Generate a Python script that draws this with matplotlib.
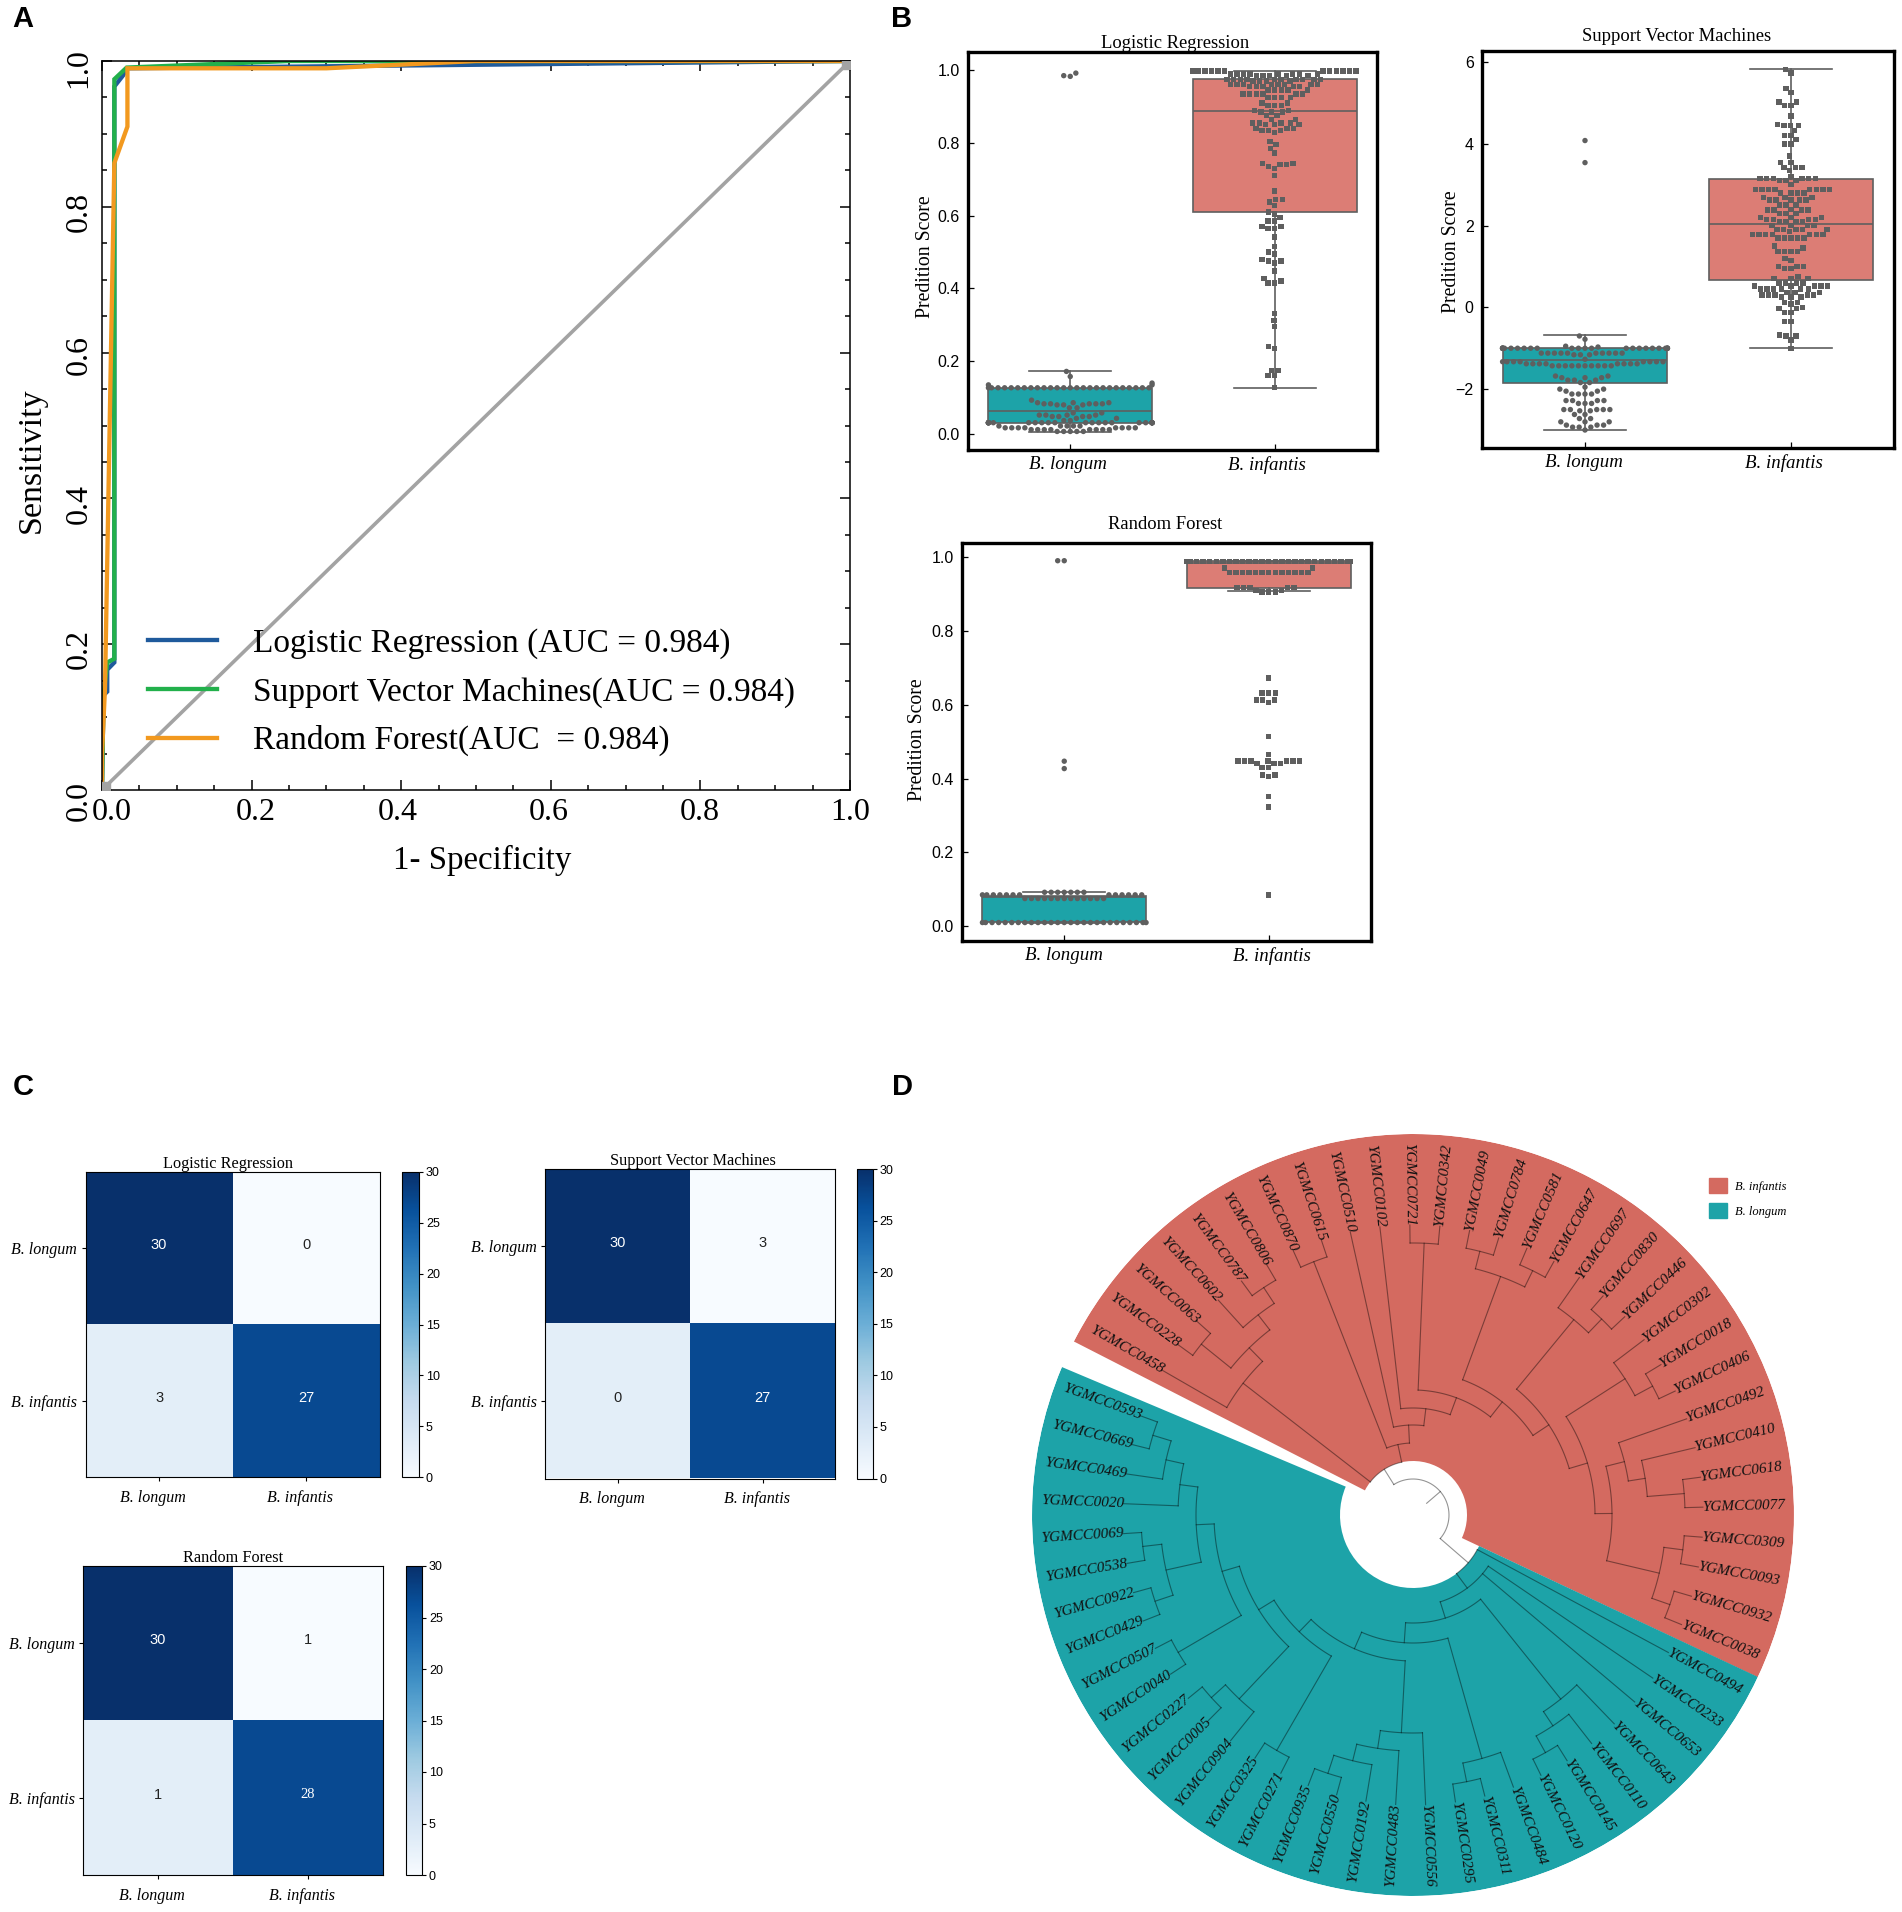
# ============================================================= #
#
# Panel figure: ROC curves, score boxplots, confusion matrices, tree
#
# ============================================================= #
#
# Libraries
import matplotlib as mpl
mpl.use('Agg')
#
import matplotlib.pyplot as plt
from matplotlib.patches import Patch
from matplotlib.ticker import MultipleLocator
from matplotlib.transforms import ScaledTranslation
import numpy as np
import seaborn as sns

plt.rcParams['font.family'] = ['Liberation Serif', 'DejaVu Serif']

#
# ============================================================= #
#
# Data
models = ['Logistic Regression', 'Support Vector Machines', 'Random Forest']
species = ['B. longum', 'B. infantis']

# Panel A
roc_lr_x = [0, 0.002, 0.007, 0.007, 0.0165, 0.0165, 0.028, 0.034, 1]
roc_lr_y = [0, 0.13, 0.135, 0.165, 0.175, 0.965, 0.98, 0.99, 1]
roc_svm_x = [0, 0.002, 0.007, 0.0165, 0.0165, 0.033, 0.25, 1]
roc_svm_y = [0, 0.13, 0.175, 0.18, 0.975, 0.991, 1, 1]
roc_rf_x = [0, 0, 0.004, 0.0165, 0.034, 0.034, 0.3, 0.5, 1]
roc_rf_y = [0, 0.05, 0.14, 0.86, 0.91, 0.99, 0.99, 1, 1]
roc_labels = ['Logistic Regression (AUC = 0.984)',
              'Support Vector Machines(AUC = 0.984)',
              'Random Forest(AUC  = 0.984)']

# Panel B: swarm values with how many points sit at each value
lr_long_val = [0.992, 0.985, 0.983, 0.172, 0.158, 0.14, 0.135, 0.127, 0.093, 0.086, 0.083, 0.08, 0.072,
               0.058, 0.052, 0.048, 0.043, 0.037, 0.031, 0.022, 0.017, 0.012, 0.007]
lr_long_cnt = [1, 1, 1, 1, 1, 1, 2, 26, 1, 3, 5, 3, 2, 2, 4, 4, 2, 2, 26, 5, 8, 8, 5]
lr_inf_val = [0.998, 0.99, 0.985, 0.975, 0.97, 0.96, 0.955, 0.945, 0.935, 0.925, 0.91, 0.903, 0.89, 0.885,
              0.875, 0.865, 0.855, 0.85, 0.84, 0.835, 0.828, 0.804, 0.795, 0.785, 0.772, 0.743, 0.74, 0.735,
              0.73, 0.71, 0.668, 0.645, 0.638, 0.628, 0.61, 0.605, 0.595, 0.585, 0.57, 0.565, 0.542, 0.515,
              0.5, 0.495, 0.48, 0.475, 0.47, 0.448, 0.428, 0.42, 0.415, 0.332, 0.312, 0.295, 0.24, 0.235,
              0.175, 0.16, 0.127]
lr_inf_cnt = [20, 8, 5, 10, 4, 8, 5, 5, 6, 4, 2, 3, 2, 3, 2, 2, 4, 3, 3, 3, 1, 1, 1, 1, 1, 2, 2, 1,
              1, 1, 1, 2, 1, 1, 1, 1, 1, 2, 2, 2, 1, 1, 1, 1, 1, 2, 1, 1, 1, 1, 2, 1, 1, 1, 1, 1, 2, 2, 1]
svm_long_val = [4.08, 3.54, -0.7, -0.78, -0.95, -0.97, -1.0, -1.12, -1.16, -1.27, -1.33, -1.38, -1.43,
                -1.68, -1.72, -1.78, -1.84, -1.95, -2.0, -2.05, -2.12, -2.28, -2.35, -2.5, -2.53, -2.62,
                -2.72, -2.8, -2.88, -2.93, -3.0]
svm_long_cnt = [1, 1, 1, 1, 1, 1, 26, 10, 3, 1, 8, 8, 10, 2, 3, 3, 2, 1, 2, 2, 4, 4, 3, 5, 2, 2, 2, 3, 3, 3, 1]
svm_inf_val = [5.82, 5.73, 5.35, 5.25, 5.02, 4.93, 4.68, 4.47, 4.45, 4.33, 4.2, 4.1, 4.0, 3.7, 3.55, 3.42,
               3.35, 3.2, 3.15, 3.1, 3.0, 2.88, 2.8, 2.68, 2.63, 2.5, 2.4, 2.38, 2.3, 2.2, 2.15, 2.1, 2.0,
               1.9, 1.85, 1.78, 1.7, 1.5, 1.45, 1.37, 1.2, 1.15, 1.0, 0.95, 0.75, 0.7, 0.6, 0.52, 0.45, 0.37,
               0.3, 0.25, 0.12, 0.08, 0.0, -0.03, -0.12, -0.35, -0.68, -0.7, -0.8, -1.0]
svm_inf_cnt = [1, 1, 1, 1, 2, 2, 1, 1, 3, 1, 2, 1, 2, 1, 2, 3, 1, 1, 6, 3, 1, 8, 4, 3, 5, 3, 1, 4, 3, 3, 4, 4, 4,
               5, 1, 7, 5, 1, 1, 4, 1, 1, 3, 2, 1, 3, 4, 5, 6, 3, 5, 3, 2, 1, 1, 2, 2, 2, 1, 2, 1, 1]
rf_long_val = [0.99, 0.447, 0.427, 0.092, 0.085, 0.075, 0.01]
rf_long_cnt = [2, 1, 1, 7, 13, 13, 27]
rf_inf_val = [0.988, 0.97, 0.958, 0.917, 0.91, 0.905, 0.672, 0.632, 0.613, 0.606, 0.514, 0.465, 0.447, 0.44,
              0.43, 0.41, 0.405, 0.352, 0.323, 0.085]
rf_inf_cnt = [27, 2, 13, 5, 2, 3, 1, 3, 3, 1, 1, 1, 7, 3, 2, 2, 1, 1, 1, 1]

# Boxes, [B. longum, B. infantis]
lr_med, lr_q1, lr_q3, lr_lo, lr_hi = [0.064, 0.889], [0.031, 0.611], [0.1275, 0.976], [0.0055, 0.1275], [0.174, 0.998]
svm_med, svm_q1, svm_q3, svm_lo, svm_hi = [-1.295, 2.05], [-1.85, 0.66], [-0.99, 3.13], [-2.99, -0.99], [-0.68, 5.83]
rf_med, rf_q1, rf_q3, rf_lo, rf_hi = [0.08, 0.985], [0.012, 0.916], [0.082, 0.988], [0.01, 0.907], [0.093, 0.99]

# Panel C: the printed counts, and the shades, which are the same in all three
cm_lr = [[30, 0], [3, 27]]
cm_svm = [[30, 3], [0, 27]]
cm_rf = [[30, 1], [1, 28]]
cm_shade = [[30, 0], [3, 27]]
cbar_ticks = [0, 5, 10, 15, 20, 25, 30]

# Panel D: a node is (radius, children), a leaf is the strain number
# Built from the tips down so the brackets stay readable
r_a = (253, ['0602', (272, ['0787', '0806'])])
r_b = (234, [(272, ['0228', '0063']), r_a])
r_c = (215, ['0458', r_b])
r_d = (254, [(272, ['0049', '0784']), (272, ['0581', '0647'])])
r_e = (253, ['0697', (272, ['0830', '0446'])])
r_f = (252, ['0302', (272, ['0018', '0406'])])
r_g = (218, ['0492', (235, ['0410', (272, ['0618', '0077'])])])
r_h = (253, [(272, ['0309', '0093']), (272, ['0932', '0038'])])
r_i = (199, [r_g, r_h])
r_j = (182, [r_f, r_i])
r_k = (163, [r_e, r_j])
r_l = (144, [r_d, r_k])
r_m = (125, [(272, ['0721', '0342']), r_l])
r_n = (107, ['0102', r_m])
r_o = (90, ['0510', r_n])
r_p = (72, [(272, ['0870', '0615']), r_o])
red_tree = (54, [r_c, r_p])

t_a = (236, ['0643', (253, ['0110', (272, ['0145', '0120'])])])
t_b = (253, ['0484', (272, ['0311', '0295'])])
t_c = (218, ['0556', (236, ['0483', (253, ['0192', (272, ['0550', '0935'])])])])
t_d = (253, ['0904', (272, ['0005', '0227'])])
t_e = (253, [(272, ['0429', '0922']), (272, ['0538', '0069'])])
t_f = (235, ['0020', (253, ['0469', (272, ['0669', '0593'])])])
t_g = (217, [t_e, t_f])
t_h = (199, [(272, ['0040', '0507']), t_g])
t_i = (181, [t_d, t_h])
t_j = (163, [(272, ['0271', '0325']), t_i])
t_k = (146, [t_c, t_j])
t_l = (128, [t_b, t_k])
t_m = (108, [t_a, t_l])
t_n = (91, ['0233', '0653', t_m])
teal_tree = (73, ['0494', t_n])

# Colours
c_red = '#d46a60'
c_teal = '#1da3a8'
c_box_red = '#dc7d75'
c_dots = '#5f5f5f'
c_grey = '#a3a3a3'

W, H = 1902, 1912
LEAF_R = 290

#
# ============================================================= #
#
# Functions

# Axes from pixel box of the picture
def px_axes(fig, x0, y0, x1, y1, **kw) :
    return fig.add_axes([x0/W, 1-y1/H, (x1-x0)/W, (y1-y0)/H], **kw)

# Nudge a tick label by some pixels (y is up)
def nudge(fig, label, dx, dy) :
    label.set_transform(label.get_transform() + ScaledTranslation(dx*0.72/72, dy*0.72/72, fig.dpi_scale_trans))

# One box + swarm panel
def box_panel(fig, ax, title, long_val, long_cnt, inf_val, inf_cnt, med, q1, q3, lo, hi, ylim, yticks, labx, laby, tx, typad, xshift) :
    stats = [dict(med=med[i], q1=q1[i], q3=q3[i], whislo=lo[i], whishi=hi[i], fliers=[]) for i in range(2)]
    line = dict(color=c_dots, linewidth=1.2)
    bp = ax.bxp(stats, positions=[0, 1], widths=0.8, capwidths=0.4, patch_artist=True, showfliers=False,
                manage_ticks=False, boxprops=dict(edgecolor=c_dots, linewidth=1.2),
                whiskerprops=line, capprops=line, medianprops=line)
    bp['boxes'][0].set_facecolor(c_teal)
    bp['boxes'][1].set_facecolor(c_box_red)

    # Keep the visible dot a bit smaller than the room the swarm gives it
    opts = dict(orient='x', native_scale=True, size=3.9, linewidth=0.6, edgecolor='none',
                color=c_dots, warn_thresh=1, ax=ax, zorder=5)
    y0 = np.repeat(long_val, long_cnt)
    y1 = np.repeat(inf_val, inf_cnt)
    sns.swarmplot(x=np.zeros(len(y0)), y=y0, marker='o', **opts)
    sns.swarmplot(x=np.ones(len(y1)), y=y1, marker='s', **opts)

    ax.set_xlim(-0.5, 1.5)
    ax.set_ylim(ylim)
    ax.set_xticks([0, 1])
    ax.set_xticklabels(species, fontstyle='italic', fontsize=13.6)
    ax.set_yticks(yticks)
    if max(yticks) > 2 :
        ylabs = [str(t).replace('-', '\u2212') for t in yticks]
    else :
        ylabs = ['%.1f' % t for t in yticks]
    ax.set_yticklabels(ylabs, family='Liberation Sans', fontsize=11.5)
    ax.tick_params(axis='both', direction='in', length=4.5, width=0.9)
    ax.tick_params(axis='x', pad=4.5)
    ax.tick_params(axis='y', pad=6)
    for lab, dx in zip(ax.get_xticklabels(), xshift) :
        nudge(fig, lab, dx, 0)
    for s in ax.spines.values() :
        s.set_linewidth(2.4)
    ax.set_xlabel('')
    ax.set_ylabel('Predition Score', fontsize=14.2, va='center')
    ax.yaxis.set_label_coords(labx, laby)
    ax.set_title(title, fontsize=13.4, x=tx, pad=typad)

# One confusion matrix with its colour bar
def cm_panel(fig, box, cbox, title, cm, tx) :
    ax = px_axes(fig, *box)
    im = ax.imshow(cm_shade, cmap='Blues', vmin=0, vmax=30, aspect='auto')
    for i in range(2) :
        for j in range(2) :
            val = cm[i][j]
            fam = 'Liberation Serif' if val == 28 else 'Liberation Sans'
            ax.text(j, i-0.02, str(val), ha='center', va='center', family=fam, fontsize=10.5,
                    color='white' if val > 15 else '#222222')
    ax.set_xticks([0, 1])
    ax.set_yticks([0, 1])
    ax.set_xticklabels(species, fontstyle='italic', fontsize=11.5)
    ax.set_yticklabels(species, fontstyle='italic', fontsize=11.5)
    ax.tick_params(axis='x', length=3, width=0.8, pad=6)
    ax.tick_params(axis='y', length=3, width=0.8, pad=3)
    for lab in ax.get_xticklabels() :
        nudge(fig, lab, -6, 0)
    for s in ax.spines.values() :
        s.set_linewidth(0.8)
    ax.set_title(title, fontsize=11.7, x=tx, pad=3)
    cax = px_axes(fig, *cbox)
    cb = fig.colorbar(im, cax=cax, ticks=cbar_ticks)
    cb.ax.tick_params(length=3, width=0.8, pad=2)
    cb.outline.set_linewidth(0.8)
    for t in cb.ax.get_yticklabels() :
        t.set_family('Liberation Sans')
        t.set_fontsize(9)

# Collect leaves left to right
def leaves_of(node) :
    if isinstance(node, str) :
        return [node]
    out = []
    for c in node[1] :
        out += leaves_of(c)
    return out

# Draw a clade, gives back its angle
def draw_clade(ax, node, angles, lkw) :
    if isinstance(node, str) :
        return angles[node]
    r, children = node
    tips = []
    for c in children :
        a = draw_clade(ax, c, angles, lkw)
        r_end = LEAF_R if isinstance(c, str) else c[0]
        ax.plot(np.radians([a, a]), [r, r_end], **lkw)
        tips.append(a)
    arc = np.radians(np.linspace(tips[0], tips[-1], 40))
    ax.plot(arc, np.full(40, r), **lkw)
    return 0.5*(tips[0]+tips[-1])

#
# ============================================================= #
#
# Main game
fig = plt.figure(figsize=(W/100, H/100), dpi=100)

# ---- A : ROC
ax = px_axes(fig, 102, 61, 850, 790)
ax.plot(roc_lr_x, roc_lr_y, color='#1f5a9c', lw=3.1, label=roc_labels[0], solid_joinstyle='miter')
ax.plot(roc_svm_x, roc_svm_y, color='#22b04b', lw=3.1, label=roc_labels[1], solid_joinstyle='miter')
ax.plot(roc_rf_x, roc_rf_y, color='#f2991f', lw=3.1, label=roc_labels[2], solid_joinstyle='miter')
ax.plot([0, 1], [0, 1], color=c_grey, lw=2.6, marker='s', ms=12, zorder=4)
ax.set_xlim(0, 1)
ax.set_ylim(0, 1)
ax.xaxis.set_major_locator(MultipleLocator(0.2))
ax.yaxis.set_major_locator(MultipleLocator(0.2))
ax.xaxis.set_minor_locator(MultipleLocator(0.05))
ax.yaxis.set_minor_locator(MultipleLocator(0.05))
ax.tick_params(which='major', direction='in', top=True, right=True, length=7, width=1.1, labelsize=23)
ax.tick_params(which='minor', direction='in', top=True, right=True, length=3.5, width=1.1)
ax.tick_params(axis='x', which='major', pad=6)
ax.tick_params(axis='y', which='major', pad=6)
ax.set_xticks([0, 0.2, 0.4, 0.6, 0.8, 1.0])
ax.set_yticks([0, 0.2, 0.4, 0.6, 0.8, 1.0])
for lab, dx in zip(ax.get_xticklabels(), [10, 4.6, -3.4, -2.3, -1, 0]) :
    nudge(fig, lab, dx, 0)
for lab, dy in zip(ax.get_yticklabels(), [-11, -5, -6, -2, -5, -7]) :
    lab.set_rotation(90)
    lab.set_va('center')
    nudge(fig, lab, 0, dy)
for s in ax.spines.values() :
    s.set_linewidth(1.1)
ax.set_xlabel('1- Specificity', fontsize=23.7, va='center')
ax.set_ylabel('Sensitivity', fontsize=24.5, va='center')
ax.xaxis.set_label_coords(0.508, -0.096)
ax.yaxis.set_label_coords(-0.0936, 0.452)
ax.legend(loc='lower left', bbox_to_anchor=(0.061, 0.046), frameon=False, fontsize=24, borderpad=0,
          borderaxespad=0, handlelength=2.09, handletextpad=1.08, labelspacing=0.53).set_zorder(6)

# ---- B : boxes and swarms
ax = px_axes(fig, 968, 52, 1377, 450)
box_panel(fig, ax, models[0], lr_long_val, lr_long_cnt, lr_inf_val, lr_inf_cnt, lr_med, lr_q1, lr_q3, lr_lo, lr_hi,
          (-0.044, 1.05), [0, 0.2, 0.4, 0.6, 0.8, 1.0], -0.105, 0.485, 0.507, 3, (-2, -8))
ax = px_axes(fig, 1482, 51, 1894, 448)
box_panel(fig, ax, models[1], svm_long_val, svm_long_cnt, svm_inf_val, svm_inf_cnt, svm_med, svm_q1, svm_q3, svm_lo, svm_hi,
          (-3.44, 6.27), [-2, 0, 2, 4, 6], -0.0735, 0.494, 0.473, 7, (-1, -7))
ax = px_axes(fig, 962, 543, 1371, 941)
box_panel(fig, ax, models[2], rf_long_val, rf_long_cnt, rf_inf_val, rf_inf_cnt, rf_med, rf_q1, rf_q3, rf_lo, rf_hi,
          (-0.04, 1.038), [0, 0.2, 0.4, 0.6, 0.8, 1.0], -0.11, 0.505, 0.497, 10, (0, 3))

# ---- C : confusion matrices
cm_panel(fig, (85.5, 1172, 380, 1477), (402, 1172, 419, 1477), models[0], cm_lr, 0.485)
cm_panel(fig, (545, 1169, 835, 1478.5), (856.5, 1169, 872.6, 1478.5), models[1], cm_svm, 0.51)
cm_panel(fig, (83, 1566, 383, 1875), (406, 1566, 422, 1875), models[2], cm_rf, 0.5)

# ---- D : circular tree
ax = px_axes(fig, 1413-381, 1515-381, 1413+381, 1515+381, projection='polar')
ax.set_rlim(0, 381)
ax.set_axis_off()

# Sectors
ax.bar(np.radians(63.85), 381-54, width=np.radians(178.1), bottom=54, color=c_red, linewidth=0)
ax.bar(np.radians(246), 381-73, width=np.radians(177.7), bottom=73, color=c_teal, linewidth=0)

# Leaf angles run clockwise, on past -180 so the root arc takes the short way
red_names = leaves_of(red_tree)
teal_names = leaves_of(teal_tree)
angles = dict(zip(red_names, np.linspace(150, -22.2, len(red_names))))
angles.update(zip(teal_names, np.linspace(-28.3, -200, len(teal_names))))

lkw = dict(color='black', alpha=0.42, lw=0.8)
root = (36, [red_tree, teal_tree])
a_root = draw_clade(ax, root, angles, lkw)
ax.plot(np.radians([a_root, a_root]), [36, 18], **lkw)

for name, a in angles.items() :
    a360 = a % 360
    rot = a360-180 if 90 < a360 < 270 else a360
    ax.text(np.radians(a), 331, 'YGMCC'+name, rotation=rot, rotation_mode='anchor', ha='center', va='center',
            fontsize=11, fontstyle='italic', color='#111111')

handles = [Patch(color=c_red, label=species[1]), Patch(color=c_teal, label=species[0])]
leg = fig.legend(handles=handles, loc='upper left', bbox_to_anchor=(1709/W, 1-1178/H), frameon=False, fontsize=9,
                 borderpad=0, borderaxespad=0, handlelength=1.44, handleheight=1.44, handletextpad=0.64, labelspacing=0.85)
for t in leg.get_texts() :
    t.set_fontstyle('italic')

# ---- Panel letters
for lab, x, y in [('A', 23, 19), ('B', 902, 19), ('C', 23, 1087), ('D', 902, 1087)] :
    fig.text(x/W, 1-y/H, lab, ha='center', va='center', family='Liberation Sans', fontweight='bold', fontsize=21)

fig.savefig('out.png', dpi=100)
plt.close()
